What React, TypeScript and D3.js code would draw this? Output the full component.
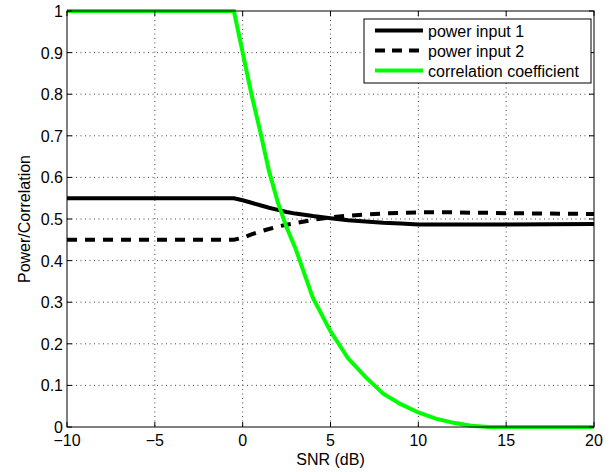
import React, { useEffect, useRef } from "react";
import * as d3 from "d3";

// SNR (dB) sample points
const snr = [-10, -5, -0.5, 0, 0.5, 1, 1.5, 2, 2.5, 3, 4, 5, 6, 7, 8, 9, 10, 11, 12, 13, 14, 15, 20];
const power1 = [0.55, 0.55, 0.55, 0.545, 0.539, 0.533, 0.527, 0.522, 0.517, 0.513, 0.507, 0.502, 0.497, 0.494, 0.491, 0.489, 0.487, 0.487, 0.487, 0.487, 0.487, 0.487, 0.488];
const power2 = [0.45, 0.45, 0.45, 0.455, 0.463, 0.47, 0.476, 0.482, 0.486, 0.49, 0.498, 0.504, 0.508, 0.511, 0.513, 0.515, 0.516, 0.516, 0.516, 0.515, 0.515, 0.514, 0.512];
const corr = [1, 1, 1, 0.9, 0.8, 0.71, 0.615, 0.54, 0.48, 0.43, 0.31, 0.23, 0.165, 0.12, 0.08, 0.055, 0.035, 0.02, 0.01, 0.003, 0, 0, 0];

const xTicks = [-10, -5, 0, 5, 10, 15, 20];
const yTicks = [0, 0.1, 0.2, 0.3, 0.4, 0.5, 0.6, 0.7, 0.8, 0.9, 1];
const legendLabels = ["power input 1", "power input 2", "correlation coefficient"];

const App = () => {
  const svgRef = useRef<SVGSVGElement>(null);

  useEffect(() => {
    d3.select(svgRef.current).selectAll("*").remove();

    const W = 612;
    const H = 472;
    const margin = { top: 11, right: 18, bottom: 45, left: 67 };
    const width = W - margin.left - margin.right;
    const height = H - margin.top - margin.bottom;
    const font = "'Liberation Sans', Arial, sans-serif";
    const fs = "16px";

    const svg = d3
      .select(svgRef.current)
      .attr("width", W)
      .attr("height", H)
      .append("g")
      .attr("transform", `translate(${margin.left},${margin.top})`);

    const x = d3.scaleLinear().domain([-10, 20]).range([0, width]);
    const y = d3.scaleLinear().domain([0, 1]).range([height, 0]);

    // background
    svg.append("rect").attr("width", width).attr("height", height).attr("fill", "#fff");

    // dotted grid
    const grid = svg.append("g").attr("stroke", "#444").attr("stroke-width", 1).attr("stroke-dasharray", "1,3.5");
    xTicks.slice(1, -1).forEach((t) => {
      grid.append("line").attr("x1", x(t)).attr("x2", x(t)).attr("y1", 0).attr("y2", height);
    });
    yTicks.slice(1, -1).forEach((t) => {
      grid.append("line").attr("x1", 0).attr("x2", width).attr("y1", y(t)).attr("y2", y(t));
    });

    // lines
    const makeLine = (vals: number[]) =>
      d3
        .line<number>()
        .x((_, i) => x(snr[i]))
        .y((d) => y(d))(vals);

    svg.append("path").attr("d", makeLine(power1)).attr("fill", "none").attr("stroke", "#000").attr("stroke-width", 4);
    svg
      .append("path")
      .attr("d", makeLine(power2))
      .attr("fill", "none")
      .attr("stroke", "#000")
      .attr("stroke-width", 4)
      .attr("stroke-dasharray", "10,8");
    svg
      .append("path")
      .attr("d", makeLine(corr))
      .attr("fill", "none")
      .attr("stroke", "#00ff00")
      .attr("stroke-width", 4);

    // axes box with inward ticks
    const tickLen = 5;
    const axes = svg.append("g").attr("stroke", "#000").attr("stroke-width", 1);
    axes.append("rect").attr("width", width).attr("height", height).attr("fill", "none");
    xTicks.forEach((t) => {
      axes.append("line").attr("x1", x(t)).attr("x2", x(t)).attr("y1", height).attr("y2", height - tickLen);
      axes.append("line").attr("x1", x(t)).attr("x2", x(t)).attr("y1", 0).attr("y2", tickLen);
    });
    yTicks.forEach((t) => {
      axes.append("line").attr("x1", 0).attr("x2", tickLen).attr("y1", y(t)).attr("y2", y(t));
      axes.append("line").attr("x1", width).attr("x2", width - tickLen).attr("y1", y(t)).attr("y2", y(t));
    });

    // tick labels
    svg
      .append("g")
      .selectAll("text")
      .data(xTicks)
      .join("text")
      .attr("x", (d) => x(d))
      .attr("y", height + 19)
      .attr("text-anchor", "middle")
      .style("font-family", font)
      .style("font-size", fs)
      .text((d) => (d < 0 ? "\u2212" + Math.abs(d) : String(d)));

    svg
      .append("g")
      .selectAll("text")
      .data(yTicks)
      .join("text")
      .attr("x", -4)
      .attr("y", (d) => y(d) + 6)
      .attr("text-anchor", "end")
      .style("font-family", font)
      .style("font-size", fs)
      .text((d) => String(d));

    // axis labels
    svg
      .append("text")
      .attr("x", width / 2)
      .attr("y", height + 38)
      .attr("text-anchor", "middle")
      .style("font-family", font)
      .style("font-size", fs)
      .text("SNR (dB)");

    svg
      .append("text")
      .attr("transform", `translate(${-37},${height / 2}) rotate(-90)`)
      .attr("text-anchor", "middle")
      .style("font-family", font)
      .style("font-size", fs)
      .text("Power/Correlation");

    // legend
    const legend = svg.append("g").attr("transform", `translate(${width - 230},${8})`);
    legend
      .append("rect")
      .attr("width", 227)
      .attr("height", 64)
      .attr("fill", "#fff")
      .attr("stroke", "#000")
      .attr("stroke-width", 1);
    const styles = [
      { color: "#000", dash: null },
      { color: "#000", dash: "10,7" },
      { color: "#00ff00", dash: null },
    ];
    legendLabels.forEach((label, i) => {
      const row = legend.append("g").attr("transform", `translate(0,${11.5 + i * 20})`);
      row
        .append("line")
        .attr("x1", 11)
        .attr("x2", 59)
        .attr("y1", 0)
        .attr("y2", 0)
        .attr("stroke", styles[i].color)
        .attr("stroke-width", 4)
        .attr("stroke-dasharray", styles[i].dash);
      row
        .append("text")
        .attr("x", 64)
        .attr("y", 6)
        .style("font-family", font)
        .style("font-size", fs)
        .text(label);
    });
  }, []);

  return (
    <div style={{ position: "absolute", left: 0, top: 0 }}>
      <svg ref={svgRef}></svg>
    </div>
  );
};

export default App;
